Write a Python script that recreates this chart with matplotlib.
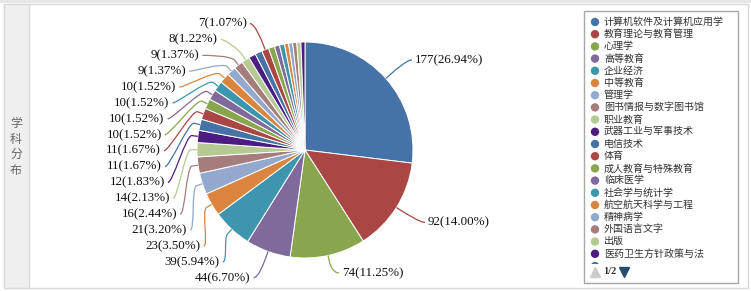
import numpy as np
import matplotlib
matplotlib.use("Agg")
import matplotlib.pyplot as plt
from matplotlib.patches import Rectangle, Circle, PathPatch
from matplotlib.path import Path

# ---------------- data ----------------
legend_names = [
    "计算机软件及计算机应用学", "教育理论与教育管理", "心理学", "高等教育", "企业经济",
    "中等教育", "管理学", "图书情报与数字图书馆", "职业教育", "武器工业与军事技术",
    "电信技术", "体育", "成人教育与特殊教育", "临床医学", "社会学与统计学",
    "航空航天科学与工程", "精神病学", "外国语言文字", "出版", "医药卫生方针政策与法",
]
values = [177, 92, 74, 44, 39, 23, 21, 16, 14, 12, 11, 11, 10, 10, 10, 10, 9, 9, 8,
          7, 7, 7, 6, 5, 5, 4, 4, 4, 4, 4]
# percentage text as printed on the chart ('' = label not shown)
percent_text = ["26.94", "14.00", "11.25", "6.70", "5.94", "3.50", "3.20", "2.44",
                "2.13", "1.83", "1.67", "1.67", "1.52", "1.52", "1.52", "1.52",
                "1.37", "1.37", "1.22", "", "", "1.07"]
palette = ["#4572A7", "#AA4643", "#89A54E", "#80699B", "#3D96AE",
           "#DB843D", "#92A8CD", "#A47D7C", "#B5CA92", "#4B1D82"]
page_text = "1/2"
panel_title = "学科分布"

# ---------------- layout ----------------
W, H, DPI = 751, 291, 100
fig = plt.figure(figsize=(W / DPI, H / DPI), dpi=DPI)
ax = fig.add_axes([0, 0, 1, 1])

def Y(y):  # top-down pixel -> axes coordinate
    return H - y

CJK = ["Liberation Serif", "Noto Sans CJK SC"]

# panel frame
ax.add_patch(Rectangle((0, Y(3)), W, 3, facecolor="#e6e6e6", edgecolor="none", zorder=0))
ax.add_patch(Rectangle((3.5, Y(287.5)), 744, 284, facecolor="white",
                       edgecolor="#d9d9d9", linewidth=1, zorder=0))
ax.add_patch(Rectangle((3.5, Y(287.5)), 25, 284, facecolor="#efefef",
                       edgecolor="#d9d9d9", linewidth=1, zorder=0))
ax.text(16, Y(147), "\n".join(panel_title), ha="center", va="center",
        fontsize=8.6, color="#666666", family=["Noto Sans CJK SC"], linespacing=1.25)

# pie
cx, cy_td, r = 305, 150, 108
colors = [palette[i % len(palette)] for i in range(len(values))]
ax.pie(values, colors=colors, startangle=90, counterclock=False,
       center=(cx, Y(cy_td)), radius=r, frame=True,
       wedgeprops=dict(edgecolor="white", linewidth=0.7))

# data labels (Highcharts-like placement)
total = float(sum(values))
vals = np.array(values, dtype=float)
mid = (np.cumsum(vals) - vals / 2) / total * 2 * np.pi  # clockwise from top
dist = 28
RL = r + dist
conn_off = 6

def getX(y, left):
    dy = np.clip((y - cy_td) / RL, -1, 1)
    return cx + (-1 if left else 1) * np.cos(np.arcsin(dy)) * RL

shown = [i for i, t in enumerate(percent_text) if t]
right = [i for i in shown if mid[i] < np.pi]
left = [i for i in shown if mid[i] >= np.pi]

pos = {}
# right side: natural positions, clamped to plot
ymax = 273
for k, i in enumerate(right):
    ny = cy_td - np.cos(mid[i]) * RL
    nx = cx + np.sin(mid[i]) * RL
    y = min(ny, ymax)
    x = nx if (k == 0 or k == len(right) - 1) else getX(y, False)
    pos[i] = (x, y, False)
# left side: evenly distributed slots between natural extremes
lnat = {i: cy_td - np.cos(mid[i]) * RL for i in left}
order = sorted(left, key=lambda i: lnat[i])
ys = np.linspace(lnat[order[0]], lnat[order[-1]], len(order))
for k, (i, y) in enumerate(zip(order, ys)):
    if k == 0 or k == len(order) - 1:
        x = cx + np.sin(mid[i]) * RL
    else:
        x = getX(y, True)
    pos[i] = (x, y, True)

for i in shown:
    x, y, isleft = pos[i]
    s = -1 if isleft else 1
    label = f"{values[i]}({percent_text[i]}%)"
    ax.text(x + s * 8, Y(y), label, ha="right" if isleft else "left", va="center",
            fontsize=9.4, family=["Liberation Serif"], color="#111111")
    # connector
    p4 = (cx + np.sin(mid[i]) * r, cy_td - np.cos(mid[i]) * r)
    p2 = (cx + np.sin(mid[i]) * (r + conn_off), cy_td - np.cos(mid[i]) * (r + conn_off))
    c2 = (2 * p2[0] - p4[0], 2 * p2[1] - p4[1])
    verts = [(x + s * 5, y), (x, y), c2, p2, p4]
    verts = [(vx, Y(vy)) for vx, vy in verts]
    codes = [Path.MOVETO, Path.CURVE4, Path.CURVE4, Path.CURVE4, Path.LINETO]
    ax.add_patch(PathPatch(Path(verts, codes), facecolor="none",
                           edgecolor=colors[i], linewidth=0.9, zorder=3))

# legend
lx0, ly0, lx1, ly1 = 583.5, 10.5, 737.5, 282.5
ax.add_patch(Rectangle((lx0, Y(ly1)), lx1 - lx0, ly1 - ly0, facecolor="white",
                       edgecolor="#a8a8a8", linewidth=1, zorder=1))
row0, row_h = 22, 12.2
for k, name in enumerate(legend_names):
    yy = row0 + k * row_h
    ax.add_patch(Circle((595, Y(yy)), 4.2, facecolor=colors[k], edgecolor="none", zorder=2))
    ax.text(604, Y(yy), name, ha="left", va="center", fontsize=7.2,
            family=CJK, color="#333333", zorder=2)
# clipped next item (page overflow)
clip = Rectangle((lx0, Y(264)), lx1 - lx0, 5, transform=ax.transData)
c = Circle((595, Y(row0 + 20 * row_h)), 4.2, facecolor=colors[20], edgecolor="none", zorder=2)
ax.add_patch(c)
c.set_clip_path(clip)
# pagination
ax.plot([595], [Y(272)], marker="^", markersize=7, color="#cccccc", linestyle="none")
ax.text(603, Y(272), page_text, ha="left", va="center", fontsize=7.5,
        family=["Liberation Serif"], fontweight="bold", color="#333333")
ax.plot([624], [Y(272)], marker="v", markersize=7, color="#274b6d", linestyle="none")

ax.set_xlim(0, W)
ax.set_ylim(0, H)
ax.set_aspect("equal")
ax.axis("off")
fig.savefig("out.png", dpi=DPI)
